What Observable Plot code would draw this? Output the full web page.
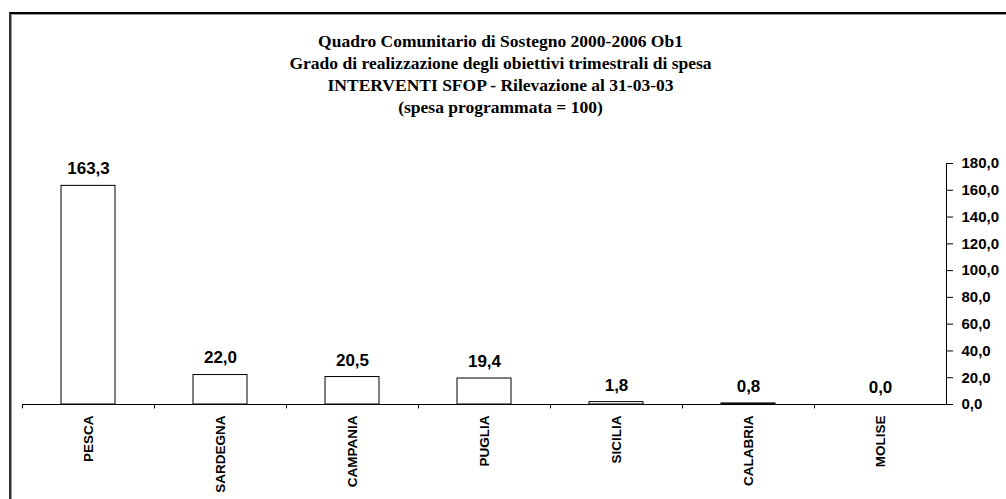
<!DOCTYPE html>
<html>
<head>
<meta charset="utf-8">
<script src="https://cdn.jsdelivr.net/npm/d3@7"></script>
<script src="https://cdn.jsdelivr.net/npm/@observablehq/plot@0.6"></script>
<style>
  html, body { margin: 0; padding: 0; background: #fff; overflow: hidden; }
  #wrap { position: relative; width: 1006px; height: 499px; }
  #border { position: absolute; left: 9px; top: 12px; width: 1100px; height: 600px;
            border-top: 2px solid #000; border-left: 2px solid #333; box-shadow: inset 1px 1px 0 #999; }
  #chart { position: absolute; left: 0; top: 0; }
</style>
</head>
<body>
<div id="wrap"><div id="border"></div><div id="chart"></div></div>
<script>
const categories = ["PESCA", "SARDEGNA", "CAMPANIA", "PUGLIA", "SICILIA", "CALABRIA", "MOLISE"];
const values = [163.3, 22.0, 20.5, 19.4, 1.8, 0.8, 0.0];
const yTicks = [0, 20, 40, 60, 80, 100, 120, 140, 160, 180];
const titleLines = [
  "Quadro Comunitario di Sostegno 2000-2006 Ob1",
  "Grado di realizzazione degli obiettivi trimestrali di spesa",
  "INTERVENTI SFOP - Rilevazione al 31-03-03",
  "(spesa programmata = 100)"
];

const data = categories.map((c, i) => ({cat: c, val: values[i]}));
const fmt = v => v.toFixed(1).replace(".", ",");
const sans = "'Liberation Sans', Arial, sans-serif";
const serif = "'Liberation Serif', 'Times New Roman', serif";

const chart = Plot.plot({
  width: 1006,
  height: 499,
  marginLeft: 22,
  marginRight: 60,
  marginTop: 163,
  marginBottom: 95,
  style: {fontFamily: sans, background: "transparent", color: "#000"},
  x: {domain: categories, paddingInner: 0.59, paddingOuter: 0.295, axis: null, label: null},
  y: {domain: [0, 180], axis: null, label: null},
  marks: [
    Plot.barY(data, {x: "cat", y: "val", fill: "white", stroke: "black", strokeWidth: 1}),
    Plot.ruleY([0], {stroke: "black", strokeWidth: 1}),
    Plot.ruleX(categories, {x: d => d, y1: 0, y2: -3.3, dx: -66, stroke: "black"}),
    Plot.frame({anchor: "right", stroke: "black"}),
    Plot.axisY({anchor: "right", ticks: yTicks, tickSize: 6, tickPadding: 9, tickFormat: fmt, label: null,
                fontSize: 15, fontWeight: "bold", fontFamily: sans, stroke: "black", fill: "black"}),
    Plot.axisX({tickSize: 0, tickPadding: 11, tickRotate: -90, fontSize: 13.5, fontWeight: "bold", label: null,
                fontFamily: sans, fill: "black"}),
    Plot.text(data, {x: "cat", y: "val", text: d => fmt(d.val), dy: -17, fontSize: 17,
                     fontWeight: "bold", fontFamily: sans, fill: "black"}),
    Plot.text([titleLines.join("\n")], {text: d => d, frameAnchor: "top", lineAnchor: "middle",
                     dx: 16, dy: -91, lineHeight: 22 / 17.5, fontSize: 17.5, fontWeight: "bold",
                     fontFamily: serif, fill: "black"})
  ]
});
document.getElementById("chart").appendChild(chart);
</script>
</body>
</html>
